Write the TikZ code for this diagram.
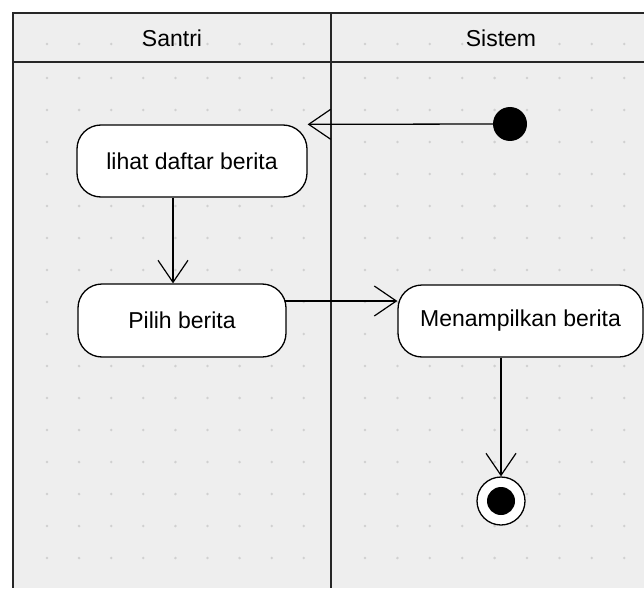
\documentclass[tikz,border=0pt]{standalone}
\usepackage{fontspec}
\setmainfont{Liberation Sans}
\usetikzlibrary{arrows.meta,calc}
\definecolor{lanebg}{HTML}{EEEEEE}
\definecolor{dotc}{HTML}{D0D0D0}
\begin{document}
\begin{tikzpicture}[x=1pt,y=-1pt,
  act/.style={draw, line width=1.3pt, fill=white, rounded corners=24pt, inner sep=0pt, font=\fontsize{23}{27}\selectfont},
  lane/.style={line width=2pt, draw=black!85},
  flow/.style={line width=1.3pt, -{Straight Barb[length=22pt,width=30pt,line width=1.2pt]}},
  hdr/.style={font=\fontsize{23}{27}\selectfont},
  griddot/.style={fill=dotc}
]
\useasboundingbox (0,0) rectangle (644,588);
\fill[lanebg] (13,13) rectangle (644,588);
% dot grid
\foreach \k in {0,...,8} {
  \fill[griddot] (47+32.1*\k,44) circle (1.4pt);
  \fill[griddot] (365+32.4*\k,44) circle (1.4pt);
  \foreach \j in {0,...,15} {
    \fill[griddot] (47+32.1*\k,78+32*\j) circle (1.4pt);
    \fill[griddot] (365+32.4*\k,78+32*\j) circle (1.4pt);
  }
}
% lanes
\draw[lane] (644,13) -- (13,13) -- (13,588);
\draw[lane] (13,62) -- (644,62);
\draw[lane] (331,13) -- (331,588);
\node[hdr] (santri) at (172,38) {Santri};
\node[hdr] (sistem) at (501,38) {Sistem};
% activities
\node[act, minimum width=230pt, minimum height=72pt] (lihat) at (192,161) {lihat daftar berita};
\node[act, minimum width=208pt, minimum height=73pt] (pilih) at (182,320.5) {Pilih berita};
\node[act, minimum width=245pt, minimum height=72pt] (tampil) at (520.5,321) {Menampilkan berita};
\node[circle, fill=black, minimum size=34pt, inner sep=0pt] (start) at (510,124) {};
\node[circle, draw, line width=1.3pt, fill=white, minimum size=48pt, inner sep=0pt] (end) at (501,501) {};
\node[circle, fill=black, minimum size=28pt, inner sep=0pt] (endin) at (end.center) {};
% flows
\draw[flow] (start.west) -- (lihat.north east);
\draw[flow] ($(lihat.south)+(-19,0)$) -- ($(pilih.north)+(-9,0)$);
\draw[flow] ($(pilih.east)+(-2,-19.5)$) -- ($(tampil.west)+(0,-20)$);
\draw[flow] (end.north |- tampil.south) -- (end.north);
\end{tikzpicture}
\end{document}
